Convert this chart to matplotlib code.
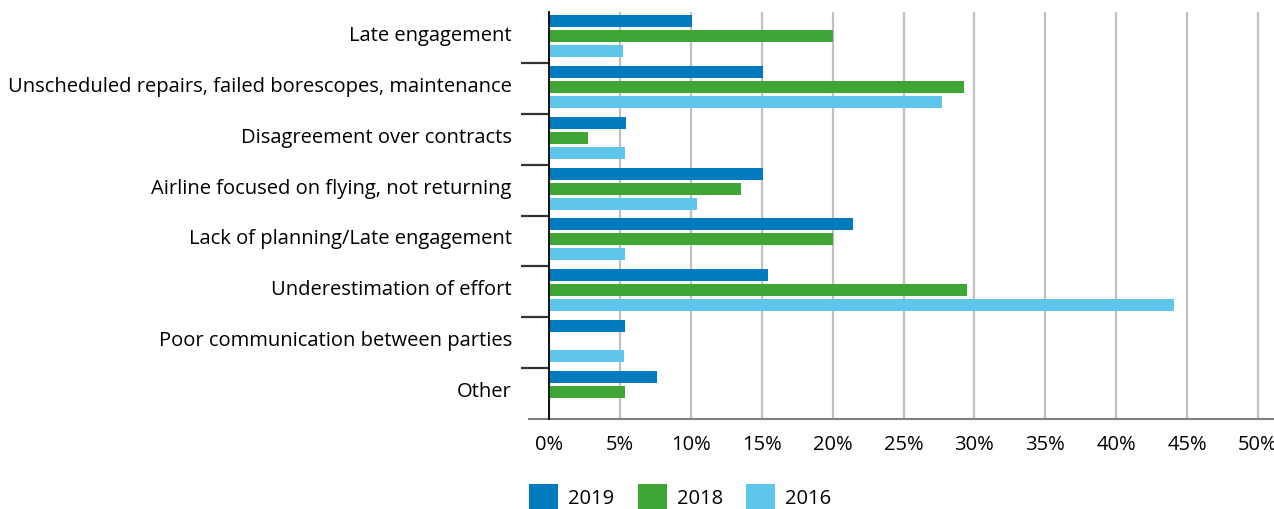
import numpy as np
import matplotlib
matplotlib.use("Agg")
import matplotlib.pyplot as plt
import matplotlib.transforms as mtrans
from matplotlib.patches import Patch

categories = [
    "Late engagement",
    "Unscheduled repairs, failed borescopes, maintenance",
    "Disagreement over contracts",
    "Airline focused on flying, not returning",
    "Lack of planning/Late engagement",
    "Underestimation of effort",
    "Poor communication between parties",
    "Other",
]
series_names = ["2019", "2018", "2016"]
values_2019 = [10.1, 15.1, 5.4, 15.1, 21.4, 15.4, 5.35, 7.6]
values_2018 = [20.0, 29.3, 2.7, 13.5, 20.0, 29.5, 0.0, 5.35]
values_2016 = [5.2, 27.7, 5.35, 10.4, 5.35, 44.1, 5.3, 0.0]
x_ticks = [0, 5, 10, 15, 20, 25, 30, 35, 40, 45, 50]
x_tick_labels = [f"{t}%" for t in x_ticks]

colors = ["#007bc0", "#3fa535", "#5ec5eb"]

plt.rcParams["font.family"] = ["Open Sans", "DejaVu Sans"]
FS = 14.5

fig = plt.figure(figsize=(12.74, 5.10), dpi=100)
ax = fig.add_axes([549.3 / 1274, 1 - 420 / 510, 1 - 549.3 / 1274, (420 - 13) / 510])

y = np.arange(len(categories))
bar_h = 0.236
offs = [-0.295, 0.0, 0.295]
for vals, off, col in zip([values_2019, values_2018, values_2016], offs, colors):
    ax.barh(y + off - 0.03, vals, height=bar_h, color=col, zorder=3)

ax.set_ylim(len(categories) - 0.5, -0.5)
ax.set_xlim(0, (1274 - 549.3) / 14.17)

ax.set_xticks(x_ticks)
ax.set_xticklabels(x_tick_labels, fontsize=FS)
ax.tick_params(axis="x", length=0, pad=11)

ax.set_yticks(y)
ax.set_yticklabels(categories, fontsize=FS)
ax.tick_params(axis="y", which="major", length=0, pad=27)
up = mtrans.ScaledTranslation(0, 5 / 100, fig.dpi_scale_trans)
for lab in ax.get_yticklabels():
    lab.set_transform(lab.get_transform() + up)
ax.set_yticks(np.arange(0.5, len(categories) - 0.5, 1.0), minor=True)
ax.tick_params(axis="y", which="minor", length=20, width=1.6, color="#333333", direction="out")

ax.grid(axis="x", color="#c0c0c0", linewidth=1.6, zorder=0)
for s in ["top", "right"]:
    ax.spines[s].set_visible(False)
ax.spines["left"].set_color("black")
ax.spines["left"].set_linewidth(1.3)
ax.spines["left"].set_zorder(4)
ax.spines["bottom"].set_color("#808080")
ax.spines["bottom"].set_linewidth(1.5)

ax.plot([-20 / 14.17, 0], [len(categories) - 0.5] * 2, color="#808080", lw=1.5,
        clip_on=False, zorder=4)

handles = [Patch(facecolor=c, edgecolor="none") for c in colors]
fig.legend(handles, series_names, loc="upper left",
           bbox_to_anchor=(529 / 1274, 1 - 485 / 510), frameon=False,
           ncol=3, fontsize=FS, handlelength=1.45, handleheight=1.5,
           handletextpad=0.5, columnspacing=1.15, borderpad=0, borderaxespad=0)

fig.savefig("out.png", dpi=100)
